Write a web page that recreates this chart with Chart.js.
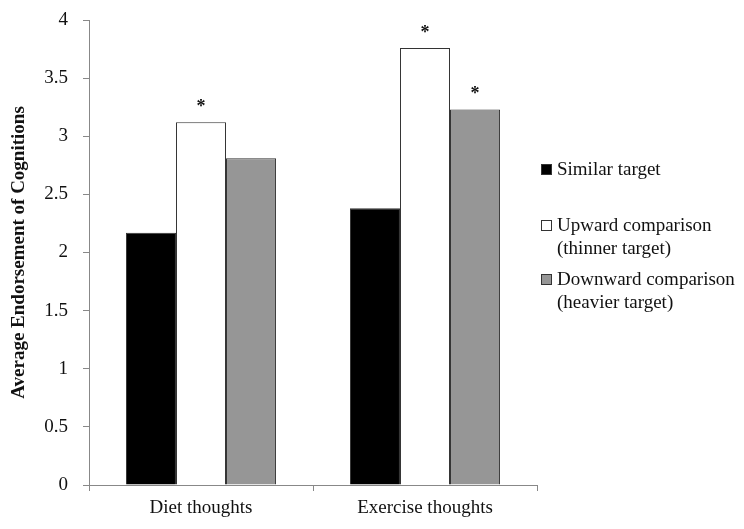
<!DOCTYPE html>
<html>
<head>
<meta charset="utf-8">
<script src="https://cdn.jsdelivr.net/npm/chart.js@4"></script>
<style>
  body { margin: 0; background: #fff; }
  #wrap { position: relative; width: 744px; height: 529px; }
  #legend { position: absolute; left: 541px; top: 157px; font-family: "Liberation Serif", serif; font-size: 19px; color: #111; line-height: 23px; }
  .item { position: relative; padding-left: 16px; }
  .box { position: absolute; left: 0; top: 7px; width: 9px; height: 9px; border: 1px solid #333; }
</style>
</head>
<body>
<div id="wrap">
  <canvas id="myChart" width="744" height="529"></canvas>
  <div id="legend">
    <div class="item" style="margin-bottom:33px"><span class="box" style="background:#000"></span>Similar target</div>
    <div class="item" style="margin-bottom:8px"><span class="box" style="background:#fff"></span>Upward comparison<br>(thinner target)</div>
    <div class="item"><span class="box" style="background:#969696"></span>Downward comparison<br>(heavier target)</div>
  </div>
</div>
<script>
var categories = ['Diet thoughts', 'Exercise thoughts'];
var similarValues = [2.17, 2.38];
var upwardValues = [3.12, 3.76];
var downwardValues = [2.81, 3.23];
// which bars get an asterisk
var similarStars = [false, false];
var upwardStars = [true, true];
var downwardStars = [false, true];
var yTicks = [0, 0.5, 1, 1.5, 2, 2.5, 3, 3.5, 4];

var serif = '"Liberation Serif", "Times New Roman", serif';

var starPlugin = {
    id: 'stars',
    afterDatasetsDraw: function (chart) {
        var ctx = chart.ctx;
        ctx.save();
        ctx.font = 'bold 18px ' + serif;
        ctx.fillStyle = '#111';
        ctx.textAlign = 'center';
        ctx.textBaseline = 'bottom';
        chart.data.datasets.forEach(function (ds, i) {
            var meta = chart.getDatasetMeta(i);
            ds.stars.forEach(function (s, j) {
                if (s) {
                    var bar = meta.data[j];
                    ctx.fillText('*', bar.x, bar.y - 6);
                }
            });
        });
        ctx.restore();
    }
};

function setChart() {
    const ctx = document.getElementById('myChart');
    new Chart(ctx, {
        type: 'bar',
        data: {
            labels: categories,
            datasets: [{
                label: 'Similar target',
                data: similarValues,
                stars: similarStars,
                backgroundColor: '#000',
                borderColor: '#333',
                borderWidth: 1
            }, {
                label: 'Upward comparison (thinner target)',
                data: upwardValues,
                stars: upwardStars,
                backgroundColor: '#fff',
                borderColor: '#333',
                borderWidth: 1
            }, {
                label: 'Downward comparison (heavier target)',
                data: downwardValues,
                stars: downwardStars,
                backgroundColor: '#969696',
                borderColor: '#333',
                borderWidth: 1
            }]
        },
        options: {
            responsive: false,
            animation: false,
            layout: { padding: { top: 20, right: 207, bottom: 0, left: 8 } },
            categoryPercentage: 0.67,
            barPercentage: 1.0,
            plugins: {
                legend: { display: false },
                tooltip: { enabled: false }
            },
            scales: {
                x: {
                    grid: { display: true, drawOnChartArea: false, offset: true, tickLength: 6, color: '#888' },
                    border: { color: '#888' },
                    ticks: { color: '#111', font: { family: serif, size: 19 }, padding: 6 },
                    afterFit: function (scale) { scale.height = 44; }
                },
                y: {
                    min: 0,
                    max: 4,
                    afterBuildTicks: function (scale) {
                        scale.ticks = yTicks.map(function (v) { return { value: v }; });
                    },
                    grid: { display: true, drawOnChartArea: false, tickLength: 6, color: '#888' },
                    border: { color: '#888' },
                    ticks: {
                        color: '#111',
                        font: { family: serif, size: 19 },
                        padding: 15,
                        callback: function (v) { return String(v); }
                    },
                    title: {
                        display: true,
                        text: 'Average Endorsement of Cognitions',
                        color: '#111',
                        font: { family: serif, size: 19, weight: 'bold' },
                        padding: 0
                    },
                    afterFit: function (scale) {
                        scale.width = 81;
                        scale.paddingTop = 0;
                        scale.paddingBottom = 0;
                    }
                }
            }
        },
        plugins: [starPlugin]
    });
}
setChart();
</script>
</body>
</html>
